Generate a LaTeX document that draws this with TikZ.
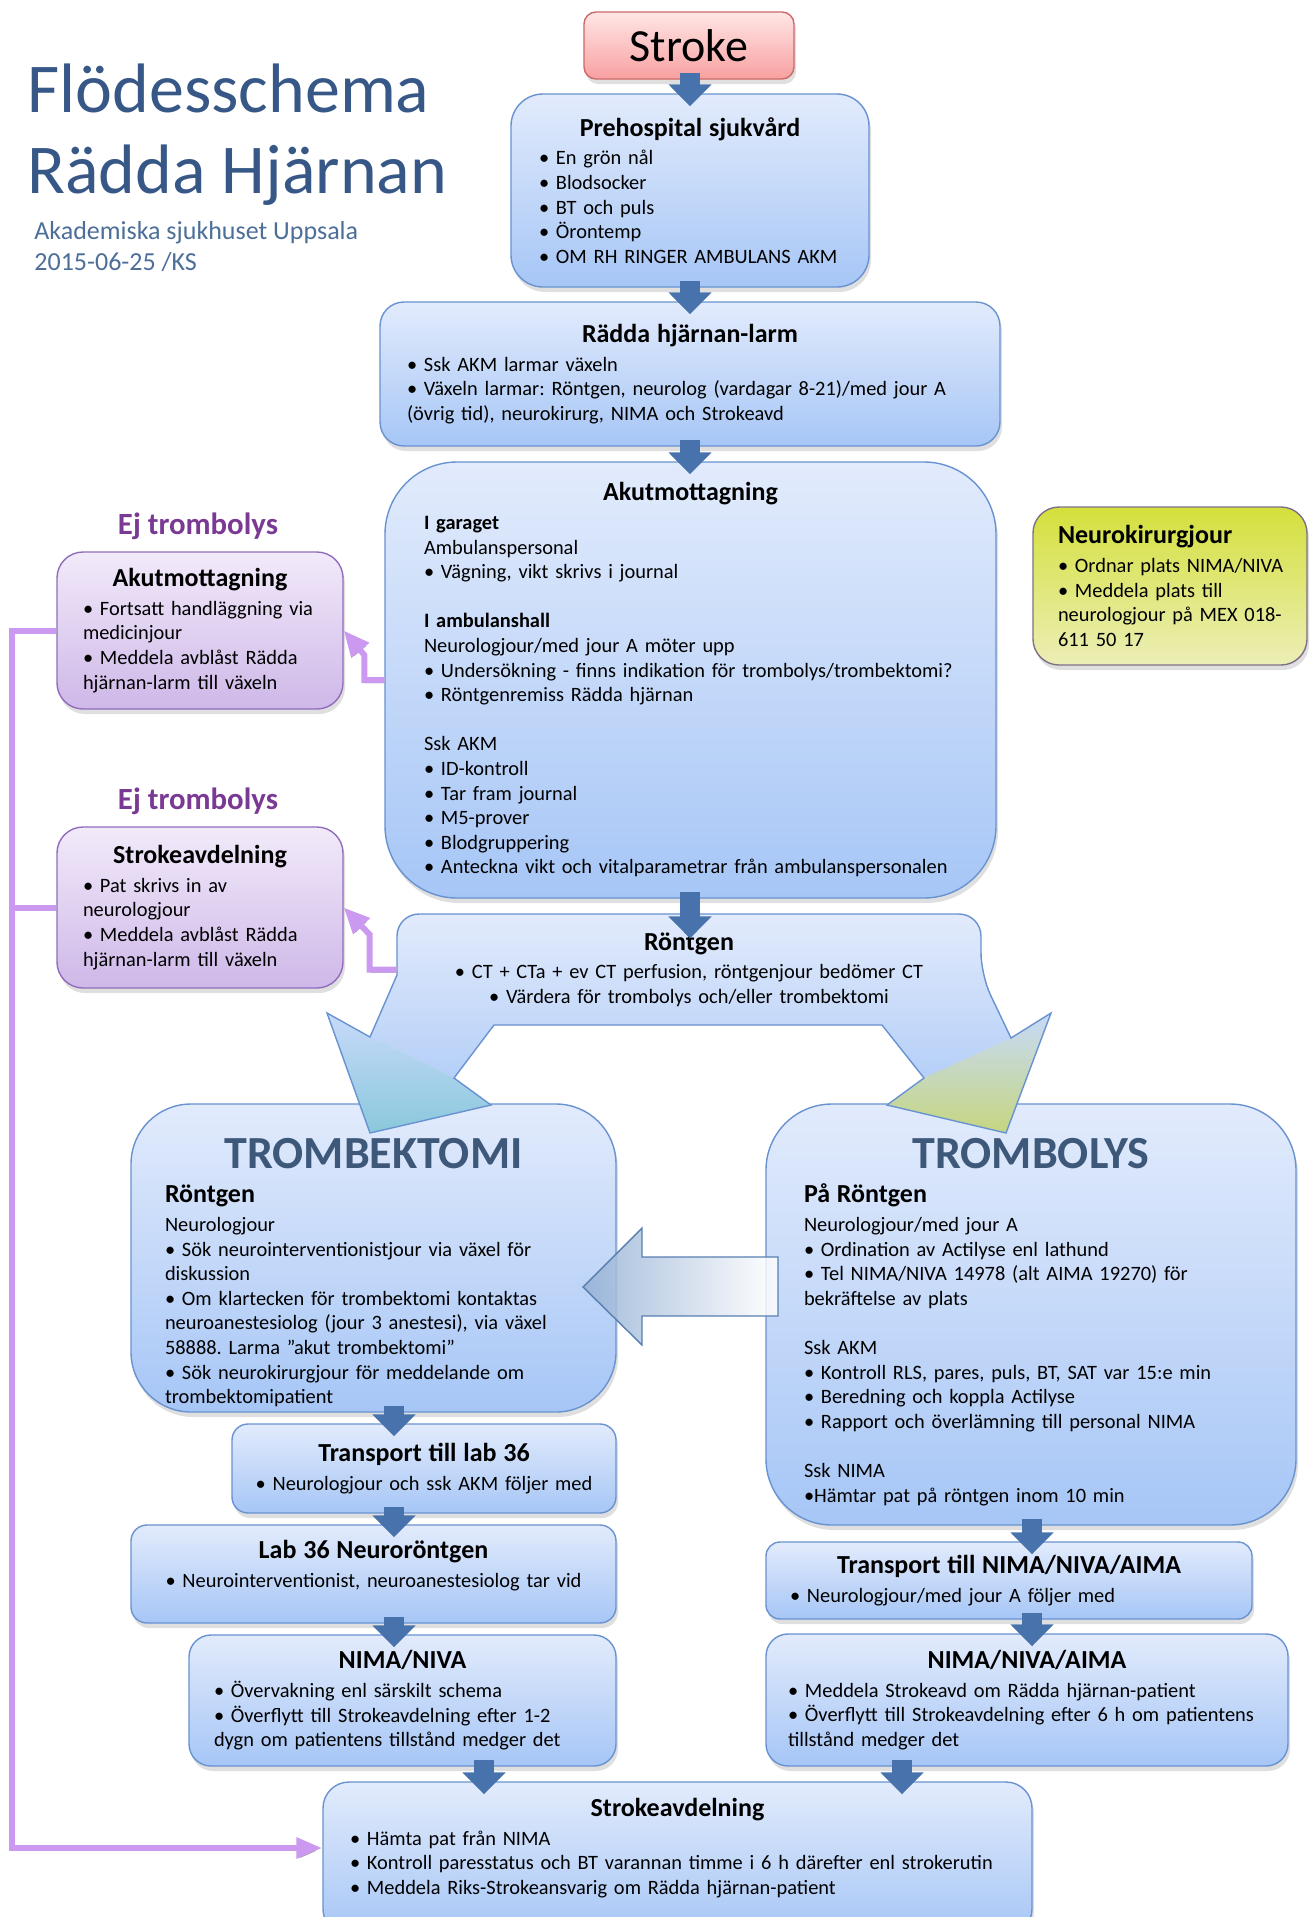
\documentclass[tikz,border=0pt]{standalone}
\usepackage{fontspec}
\setmainfont{Carlito}
\usetikzlibrary{arrows.meta,shadows}
\setlength{\parindent}{0pt}
\frenchspacing
\hyphenpenalty=10000
\exhyphenpenalty=10000

\definecolor{boxtop}{RGB}{226,235,252}
\definecolor{boxbot}{RGB}{166,198,246}
\definecolor{boxline}{RGB}{105,146,208}
\definecolor{liltop}{RGB}{242,234,250}
\definecolor{lilbot}{RGB}{206,184,232}
\definecolor{lilline}{RGB}{146,108,188}
\definecolor{redtop}{RGB}{255,230,230}
\definecolor{redbot}{RGB}{248,160,160}
\definecolor{redline}{RGB}{205,105,105}
\definecolor{limetop}{RGB}{212,224,60}
\definecolor{limebot}{RGB}{236,238,182}
\definecolor{limeline}{RGB}{125,112,135}
\definecolor{flowblue}{RGB}{72,114,172}
\definecolor{lilac}{RGB}{204,153,240}
\definecolor{headblue}{RGB}{55,88,135}
\definecolor{subblue}{RGB}{76,110,152}
\definecolor{ejpurple}{RGB}{122,58,148}
\definecolor{bigslate}{RGB}{62,88,122}
\definecolor{headmid}{RGB}{199,218,249}
\definecolor{headteal}{RGB}{138,200,220}
\definecolor{headlime}{RGB}{198,214,128}
\definecolor{bigleft}{RGB}{148,176,212}
\definecolor{bigline}{RGB}{88,126,176}

\newcommand\bodyfont{\fontsize{10.2}{12.3}\selectfont}
\newcommand\widelines{\rightskip=-40pt plus 1fil\relax\baselineskip=12.3pt\relax}
\newcommand\boxhead[1]{\widelines{\centering\bfseries\fontsize{13}{15}\selectfont #1\par}\vspace{2pt}}
\newcommand\midhead[1]{{\bfseries\fontsize{13}{15}\selectfont #1\par}\vspace{2pt}}
\newcommand\boxsub[1]{\widelines{\bfseries\fontsize{13}{15}\selectfont #1\par}\vspace{2pt}}
\newcommand\bighead[2]{\widelines{\centering\bfseries\fontsize{23}{26}\selectfont\color{bigslate}\rule{0pt}{#2}#1\par}\vspace{2pt}}
\newcommand\rontgenpath{(397,975) [rounded corners=11pt] -- (397,914) -- (981,914) -- (981,975) [sharp corners] -- (1011,1038) -- (1051,1013) -- (1006,1133) -- (887,1105) -- (924,1078) -- (882,1025) -- (494,1025) -- (454,1078) -- (491,1105) -- (370,1133) -- (327,1013) -- (370,1037) -- cycle}

\begin{document}
\begin{tikzpicture}[x=0.5pt, y=-0.5pt,
  bluebox/.style={draw=boxline, line width=.7pt, top color=boxtop, bottom color=boxbot, rounded corners=#1, drop shadow={opacity=.25, shadow xshift=1pt, shadow yshift=-2.5pt}, font=\bodyfont, align=left, inner ysep=1pt},
  lilacbox/.style={bluebox=#1, draw=lilline, top color=liltop, bottom color=lilbot},
  limebox/.style={bluebox=#1, draw=limeline, top color=limetop, bottom color=limebot},
  redbox/.style={bluebox=#1, draw=redline, top color=redtop, bottom color=redbot},
  flow/.style={draw=flowblue, line width=10pt, -{Triangle[width=21pt,length=11pt]}, shorten <=-3.5pt, shorten >=-6.5pt},
  rail/.style={draw=lilac, line width=3pt, preaction={draw=black!40, transform canvas={xshift=.6pt,yshift=-1.4pt}}},
  ej/.style={font=\bfseries\fontsize{15.4}{18}\selectfont, text=ejpurple},
  bigarrow/.style={left color=bigleft, right color=white, draw=bigline, line width=.7pt, fill opacity=.85}]

\useasboundingbox (0,0) rectangle (1315,1917);

\node[anchor=base west, inner sep=0pt, font=\fontsize{35}{41}\selectfont, text=headblue] (t1) at (27,112) {Flödesschema};
\node[anchor=base west, inner sep=0pt, font=\fontsize{35}{41}\selectfont, text=headblue] (t2) at (27,193) {Rädda Hjärnan};
\node[anchor=base west, inner sep=0pt, font=\fontsize{13}{15}\selectfont, text=subblue] (org) at (34,239) {Akademiska sjukhuset Uppsala};
\node[anchor=base west, inner sep=0pt, font=\fontsize{13}{15}\selectfont, text=subblue] (date) at (34,270) {2015-06-25 /KS};

\node[redbox=6pt, minimum width=105pt, minimum height=33.5pt, inner sep=0pt, align=center, font=\fontsize{23}{27}\selectfont] (stroke) at (689,45.5) {Stroke};

\node[bluebox=16pt, text width=151pt, inner xsep=14pt, minimum height=96.5pt] (pre) at (690,190.5) {\boxhead{Prehospital sjukvård}
• En grön nål\\
• Blodsocker\\
• BT och puls\\
• Örontemp\\
• OM RH RINGER AMBULANS AKM};

\node[bluebox=12pt, text width=283pt, inner xsep=13.5pt, minimum height=72pt] (larm) at (690,374) {\boxhead{Rädda hjärnan-larm}
• Ssk AKM larmar växeln\\
• Växeln larmar: Röntgen, neurolog (vardagar 8-21)/med jour A\\
(övrig tid), neurokirurg, NIMA och Strokeavd};

\node[bluebox=36pt, text width=266.5pt, inner xsep=19.5pt, minimum height=218pt] (akm) at (690.5,680) {\boxhead{Akutmottagning}
{\bfseries I garaget}\\
Ambulanspersonal\\
• Vägning, vikt skrivs i journal\\[12.3pt]
{\bfseries I ambulanshall}\\
Neurologjour/med jour A möter upp\\
• Undersökning - finns indikation för trombolys/trombektomi?\\
• Röntgenremiss Rädda hjärnan\\[12.3pt]
Ssk AKM\\
• ID-kontroll\\
• Tar fram journal\\
• M5-prover\\
• Blodgruppering\\
• Anteckna vikt och vitalparametrar från ambulanspersonalen};

\node[limebox=13pt, text width=112pt, inner xsep=12.5pt, minimum height=79pt] (neuro) at (1170,586) {\boxsub{Neurokirurgjour}
• Ordnar plats NIMA/NIVA\\
• Meddela plats till\\
neurologjour på MEX 018-\\
611 50 17};

\node[ej] (ej1) at (198,526) {Ej trombolys};
\node[ej] (ej2) at (198,801) {Ej trombolys};

\node[lilacbox=13pt, text width=117pt, inner xsep=13pt, minimum height=78.5pt] (ejakm) at (200,630.5) {\boxhead{Akutmottagning}
• Fortsatt handläggning via\\
medicinjour\\
• Meddela avblåst Rädda\\
hjärnan-larm till växeln};

\node[lilacbox=13pt, text width=117pt, inner xsep=13pt, minimum height=80.5pt] (ejstroke) at (200,907.5) {\boxhead{Strokeavdelning}
• Pat skrivs in av\\
neurologjour\\
• Meddela avblåst Rädda\\
hjärnan-larm till växeln};

\node[bluebox=30pt, text width=208.5pt, inner xsep=17pt, minimum height=154pt] (tbek) at (373.5,1258) {\bighead{TROMBEKTOMI}{30pt}
\boxsub{Röntgen}
Neurologjour\\
• Sök neurointerventionistjour via växel för\\
diskussion\\
• Om klartecken för trombektomi kontaktas\\
neuroanestesiolog (jour 3 anestesi), via växel\\
58888. Larma ”akut trombektomi”\\
• Sök neurokirurgjour för meddelande om\\
trombektomipatient};

\node[bluebox=33pt, text width=227pt, inner xsep=19pt, minimum height=210.5pt] (tlys) at (1031,1314.5) {\bighead{TROMBOLYS}{22.7pt}
\boxsub{På Röntgen}
Neurologjour/med jour A\\
• Ordination av Actilyse enl lathund\\
• Tel NIMA/NIVA 14978 (alt AIMA 19270) för\\
bekräftelse av plats\\[12.3pt]
Ssk AKM\\
• Kontroll RLS, pares, puls, BT, SAT var 15:e min\\
• Beredning och koppla Actilyse\\
• Rapport och överlämning till personal NIMA\\[12.3pt]
Ssk NIMA\\
•Hämtar pat på röntgen inom 10 min};

\node[bluebox=8pt, align=center, text width=172pt, inner xsep=10pt, minimum height=44.5pt] (tlab) at (424,1468.5) {\midhead{Transport till lab 36}
• Neurologjour och ssk AKM följer med};

\node[bluebox=8pt, align=center, text width=222pt, inner xsep=10.25pt, minimum height=49pt] (lab) at (373.5,1574) {\midhead{Lab 36 Neuroröntgen}
• Neurointerventionist, neuroanestesiolog tar vid\rule[-10pt]{0pt}{0pt}};

\node[bluebox=11pt, text width=188.5pt, inner xsep=12.5pt, minimum height=65.5pt] (niva) at (402.5,1700.5) {\boxhead{NIMA/NIVA}
• Övervakning enl särskilt schema\\
• Överflytt till Strokeavdelning efter 1-2\\
dygn om patientens tillstånd medger det};

\node[bluebox=7pt, text width=219pt, inner xsep=12pt, minimum height=38.5pt] (tnima) at (1009,1580.5) {\boxhead{Transport till NIMA/NIVA/AIMA}
• Neurologjour/med jour A följer med};

\node[bluebox=11pt, text width=239pt, inner xsep=11pt, minimum height=66pt] (aima) at (1027,1700) {\boxhead{NIMA/NIVA/AIMA}
• Meddela Strokeavd om Rädda hjärnan-patient\\
• Överflytt till Strokeavdelning efter 6 h om patientens\\
tillstånd medger det};

\node[bluebox=13pt, text width=327.5pt, inner xsep=13.5pt, minimum height=76.5pt] (savd) at (677.5,1858.5) {\boxhead{Strokeavdelning}
• Hämta pat från NIMA\\
• Kontroll paresstatus och BT varannan timme i 6 h därefter enl strokerutin\\
• Meddela Riks-Strokeansvarig om Rädda hjärnan-patient\rule[-12pt]{0pt}{0pt}};

\path[top color=boxtop, bottom color=boxbot] \rontgenpath;
\shade[top color=headmid, bottom color=headteal] (370,1037) -- (327,1013) -- (370,1133) -- (491,1105) -- (454,1078) -- cycle;
\shade[top color=headmid, bottom color=headlime] (1011,1038) -- (1051,1013) -- (1006,1133) -- (887,1105) -- (924,1078) -- cycle;
\draw[boxline, line width=.7pt] \rontgenpath;
\node[font=\bodyfont, align=center, text width=280pt, inner xsep=6pt] (rtg) at (689,969.5) {\midhead{Röntgen}
• CT + CTa + ev CT perfusion, röntgenjour bedömer CT\\
• Värdera för trombolys och/eller trombektomi};

\path[bigarrow] (583,1287) -- (642,1228) -- (642,1257) -- (778,1257) -- (778,1316) -- (642,1316) -- (642,1345) -- cycle;

\coordinate (mid) at (690,0);
\coordinate (lft) at (394,0);
\coordinate (rgt) at (1032,0);
\coordinate (lmerge) at (484,0);
\coordinate (rmerge) at (902,0);
\coordinate (railtop) at (12,630.5);
\coordinate (railmid) at (12,907.5);
\coordinate (railend) at (12,1848);

\draw[rail, -{Triangle[width=10pt,length=13pt]}] (ejakm.west) -- (railtop) -- (railend) -- (savd.west |- railend);
\draw[rail] (ejstroke.west) -- (railmid);
\draw[rail, -{Triangle[width=11pt,length=13pt]}] (akm.west |- 0,680) -- ++(-20,0) -- ++(0,-25) -- (ejakm.east);
\draw[rail, -{Triangle[width=11pt,length=13pt]}] (rtg.west) -- ++(-27,0) -- ++(0,-35) -- (ejstroke.east);

\draw[flow] (stroke.south -| mid) -- (pre.north -| mid);
\draw[flow] (pre.south -| mid) -- (larm.north -| mid);
\draw[flow] (larm.south -| mid) -- (akm.north -| mid);
\draw[flow] (akm.south -| mid) -- (rtg.north -| mid);
\draw[flow] (tbek.south -| lft) -- (tlab.north -| lft);
\draw[flow] (tlab.south -| lft) -- (lab.north -| lft);
\draw[flow] (lab.south -| lft) -- (niva.north -| lft);
\draw[flow] (niva.south -| lmerge) -- (savd.north -| lmerge);
\draw[flow] (tlys.south -| rgt) -- (tnima.north -| rgt);
\draw[flow] (tnima.south -| rgt) -- (aima.north -| rgt);
\draw[flow] (aima.south -| rmerge) -- (savd.north -| rmerge);

\end{tikzpicture}
\end{document}
